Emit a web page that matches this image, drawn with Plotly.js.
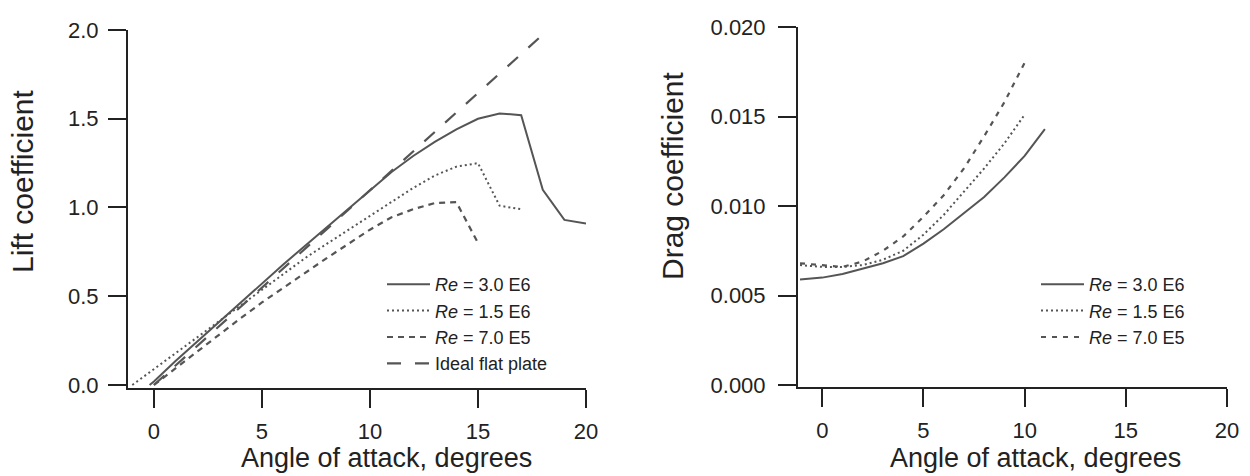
<!DOCTYPE html>
<html>
<head>
<meta charset="utf-8">
<script src="https://cdn.plot.ly/plotly-3.0.1.min.js"></script>
<style>html,body{margin:0;padding:0;background:#fff;}</style>
</head>
<body>
<div id="chart" style="width:1250px;height:476px;"></div>
<script>
// ---- Lift coefficient data ----
const alphaLift30 = [-0.2, 0, 1, 2, 3, 4, 5, 6, 7, 8, 9, 10, 11, 12, 13, 14, 15, 16, 17, 18, 19, 20];
const clRe30 = [0, 0.02, 0.135, 0.245, 0.355, 0.465, 0.575, 0.68, 0.785, 0.89, 0.995, 1.1, 1.2, 1.29, 1.37, 1.44, 1.50, 1.53, 1.52, 1.10, 0.93, 0.91];
const alphaLift15 = [-1, 0, 1, 2, 3, 4, 5, 6, 7, 8, 9, 10, 11, 12, 13, 14, 15, 16, 17];
const clRe15 = [0, 0.09, 0.18, 0.27, 0.36, 0.45, 0.54, 0.63, 0.715, 0.795, 0.875, 0.95, 1.03, 1.11, 1.18, 1.23, 1.25, 1.01, 0.99];
const alphaLift07 = [0, 1, 2, 3, 4, 5, 6, 7, 8, 9, 10, 11, 12, 13, 14, 15];
const clRe07 = [0, 0.095, 0.19, 0.285, 0.375, 0.465, 0.55, 0.635, 0.715, 0.795, 0.875, 0.945, 0.99, 1.025, 1.03, 0.80];
const alphaFlat = [0, 18];
const clFlat = [0, 1.974];

// ---- Drag coefficient data ----
const alphaDrag30 = [-1.1, 0, 1, 2, 3, 4, 5, 6, 7, 8, 9, 10, 11];
const cdRe30 = [0.0059, 0.0060, 0.0062, 0.0065, 0.0068, 0.0072, 0.0079, 0.0087, 0.0096, 0.0105, 0.0116, 0.0128, 0.0143];
const alphaDrag15 = [-1.1, 0, 1, 2, 3, 4, 5, 6, 7, 8, 9, 10];
const cdRe15 = [0.0067, 0.0066, 0.0066, 0.0067, 0.0070, 0.0075, 0.0084, 0.0095, 0.0108, 0.0121, 0.0135, 0.0151];
const alphaDrag07 = [-1.1, 0, 1, 2, 3, 4, 5, 6, 7, 8, 9, 10];
const cdRe07 = [0.0068, 0.0067, 0.0066, 0.0069, 0.0075, 0.0083, 0.0094, 0.0106, 0.0121, 0.0139, 0.0158, 0.0180];

// ---- Labels ----
const namesRe = ['<i>Re</i> = 3.0 E6', '<i>Re</i> = 1.5 E6', '<i>Re</i> = 7.0 E5'];
const nameFlat = 'Ideal flat plate';
const xTicks = [0, 5, 10, 15, 20];
const liftTicks = [0, 0.5, 1.0, 1.5, 2.0];
const liftTickText = ['0.0', '0.5', '1.0', '1.5', '2.0'];
const dragTicks = [0, 0.005, 0.010, 0.015, 0.020];
const dragTickText = ['0.000', '0.005', '0.010', '0.015', '0.020'];
const xTitle = 'Angle of attack, degrees';
const liftTitle = 'Lift coefficient';
const dragTitle = 'Drag coefficient';

const FONT = 'Liberation Sans, Arial, Helvetica, sans-serif';
const lineCol = '#555555';
const axCol = '#222222';

const traces = [
  {x: alphaLift30, y: clRe30, name: namesRe[0], mode: 'lines', line: {color: lineCol, width: 2, dash: 'solid'}, xaxis: 'x', yaxis: 'y', legend: 'legend'},
  {x: alphaLift15, y: clRe15, name: namesRe[1], mode: 'lines', line: {color: lineCol, width: 2, dash: '2px,3px'}, xaxis: 'x', yaxis: 'y', legend: 'legend'},
  {x: alphaLift07, y: clRe07, name: namesRe[2], mode: 'lines', line: {color: lineCol, width: 2.2, dash: '6px,5px'}, xaxis: 'x', yaxis: 'y', legend: 'legend'},
  {x: alphaFlat, y: clFlat, name: nameFlat, mode: 'lines', line: {color: lineCol, width: 2.2, dash: '14px,14px'}, xaxis: 'x', yaxis: 'y', legend: 'legend'},
  {x: alphaDrag30, y: cdRe30, name: namesRe[0], mode: 'lines', line: {color: lineCol, width: 2, dash: 'solid'}, xaxis: 'x2', yaxis: 'y2', legend: 'legend2'},
  {x: alphaDrag15, y: cdRe15, name: namesRe[1], mode: 'lines', line: {color: lineCol, width: 2, dash: '2px,3px'}, xaxis: 'x2', yaxis: 'y2', legend: 'legend2'},
  {x: alphaDrag07, y: cdRe07, name: namesRe[2], mode: 'lines', line: {color: lineCol, width: 2.2, dash: '5px,6px'}, xaxis: 'x2', yaxis: 'y2', legend: 'legend2'}
];

const axCommon = {
  showline: true, linewidth: 2, linecolor: axCol, mirror: false,
  showgrid: false, zeroline: false,
  ticks: 'outside', ticklen: 18, tickwidth: 2, tickcolor: axCol,
  tickfont: {family: FONT, size: 22, color: axCol},
  fixedrange: true
};

const H = 476, W = 1250;
const layout = {
  width: W, height: H,
  margin: {l: 0, r: 0, t: 0, b: 0},
  paper_bgcolor: '#ffffff', plot_bgcolor: '#ffffff',
  font: {family: FONT, color: axCol},
  showlegend: true,
  xaxis: Object.assign({}, axCommon, {domain: [128/W, 586/W], range: [-1.2, 20], tickvals: xTicks, anchor: 'y', ticklabelstandoff: 5}),
  yaxis: Object.assign({}, axCommon, {domain: [(H-388)/H, (H-30)/H], range: [-0.017, 2.0], tickvals: liftTicks, ticktext: liftTickText, anchor: 'x', ticklabelstandoff: 5}),
  xaxis2: Object.assign({}, axCommon, {domain: [798/W, 1227/W], range: [-1.2, 20], tickvals: xTicks, anchor: 'y2', ticklabelstandoff: 5}),
  yaxis2: Object.assign({}, axCommon, {domain: [(H-387)/H, (H-27)/H], range: [-0.00011, 0.020], tickvals: dragTicks, ticktext: dragTickText, anchor: 'x2', ticklabelstandoff: 8}),
  legend: {x: 382/W, y: (H-266)/H, xanchor: 'left', yanchor: 'top', bgcolor: 'rgba(0,0,0,0)', itemwidth: 43,
           font: {family: FONT, size: 18, color: axCol}, tracegroupgap: 0},
  legend2: {x: 1036/W, y: (H-266)/H, xanchor: 'left', yanchor: 'top', bgcolor: 'rgba(0,0,0,0)', itemwidth: 43,
           font: {family: FONT, size: 18, color: axCol}, tracegroupgap: 0},
  annotations: [
    {text: xTitle, xref: 'paper', yref: 'paper', x: 386/W, y: (H-458)/H, xanchor: 'center', yanchor: 'middle', showarrow: false, font: {family: FONT, size: 27, color: axCol}},
    {text: xTitle, xref: 'paper', yref: 'paper', x: 1035/W, y: (H-458)/H, xanchor: 'center', yanchor: 'middle', showarrow: false, font: {family: FONT, size: 27, color: axCol}},
    {text: liftTitle, xref: 'paper', yref: 'paper', x: 22/W, y: (H-181)/H, xanchor: 'center', yanchor: 'middle', textangle: -90, showarrow: false, font: {family: FONT, size: 30, color: axCol}},
    {text: dragTitle, xref: 'paper', yref: 'paper', x: 672/W, y: (H-176)/H, xanchor: 'center', yanchor: 'middle', textangle: -90, showarrow: false, font: {family: FONT, size: 30, color: axCol}}
  ]
};

Plotly.newPlot('chart', traces, layout, {displayModeBar: false, staticPlot: true});
</script>
</body>
</html>
